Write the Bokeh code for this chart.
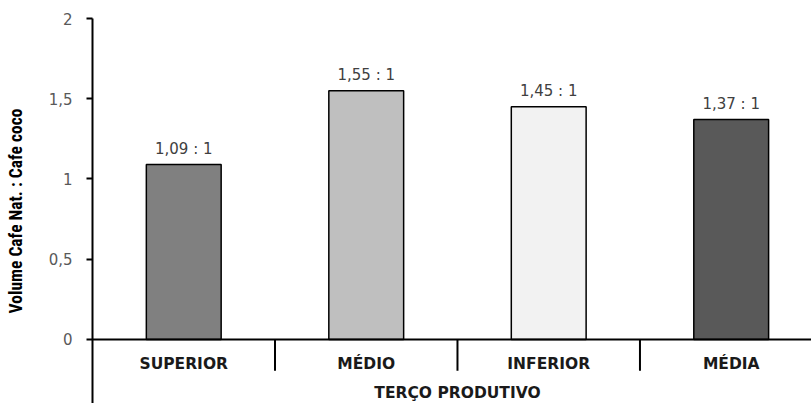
from bokeh.plotting import figure
from bokeh.models import Range1d, FixedTicker, ColumnDataSource
from bokeh.core.properties import value
from bokeh.embed import file_html
from bokeh.resources import INLINE

# Data
categories = ["SUPERIOR", "MÉDIO", "INFERIOR", "MÉDIA"]
ratios = [1.09, 1.55, 1.45, 1.37]
ratio_labels = ["1,09 : 1", "1,55 : 1", "1,45 : 1", "1,37 : 1"]
bar_colors = ["#808080", "#bfbfbf", "#f2f2f2", "#595959"]
y_ticks = [0, 0.5, 1, 1.5, 2]
y_tick_labels = ["0", "0,5", "1", "1,5", "2"]
x_title = "TERÇO PRODUTIVO"
y_title = "Volume Cafe Nat. : Cafe coco"

n = len(categories)
centers = [i + 0.5 for i in range(n)]
boundaries = list(range(1, n + 1))

p = figure(width=811, height=403, output_backend="svg", toolbar_location=None,
           x_range=Range1d(0, 3.94), y_range=Range1d(-0.399, 2.0),
           min_border_left=92, min_border_right=0, min_border_top=18,
           min_border_bottom=0)
p.outline_line_color = None
p.xgrid.visible = False
p.ygrid.visible = False
p.xaxis.visible = False
p.background_fill_color = "white"
p.border_fill_color = "white"

# Left value axis (line runs through the category band as well)
ax = p.yaxis[0]
ax.ticker = FixedTicker(ticks=y_ticks)
ax.major_label_overrides = {t: l for t, l in zip(y_ticks, y_tick_labels)}
ax.major_label_text_font = "DejaVu Sans"
ax.major_label_text_font_size = "15px"
ax.major_label_text_color = "#595959"
ax.major_label_standoff = 14
ax.major_tick_in = 0
ax.major_tick_out = 6
ax.major_tick_line_width = 2
ax.major_tick_line_color = "black"
ax.minor_tick_line_color = None
ax.axis_line_width = 2
ax.axis_line_color = "black"
ax.axis_label = y_title
ax.axis_label_text_font = "Roboto Condensed"
ax.axis_label_text_font_style = "bold"
ax.axis_label_text_font_size = "17.5px"
ax.axis_label_text_color = "black"
ax.axis_label_standoff = 20

src = ColumnDataSource(dict(x=centers, top=ratios, color=bar_colors,
                            label=ratio_labels, cat=categories))

p.vbar(x="x", top="top", bottom=0, width=0.41, source=src,
       fill_color="color", line_color="black", line_width=1.5)

# Value annotations above bars
p.text(x="x", y="top", text="label", source=src, text_align="center",
       text_baseline="bottom", y_offset=-7, text_font=value("DejaVu Sans"),
       text_font_size="15px", text_color="#404040")

# Category baseline and separators
p.segment(x0=[0], y0=[0], x1=[3.94], y1=[0], line_color="black", line_width=2)
p.segment(x0=boundaries, y0=[0] * n, x1=boundaries, y1=[-0.195] * n,
          line_color="black", line_width=2)

# Category names and axis title
p.text(x="x", y=-0.155, text="cat", source=src, text_align="center",
       text_baseline="middle", text_font=value("DejaVu Sans"),
       text_font_style="bold", text_font_size="15.5px", text_color="#1a1a1a")
p.text(x=[2.0], y=[-0.335], text=[x_title], text_align="center",
       text_baseline="middle", text_font=value("DejaVu Sans"),
       text_font_style="bold", text_font_size="15.5px", text_color="#1a1a1a")

open("out.html", "w").write(file_html(p, INLINE))
